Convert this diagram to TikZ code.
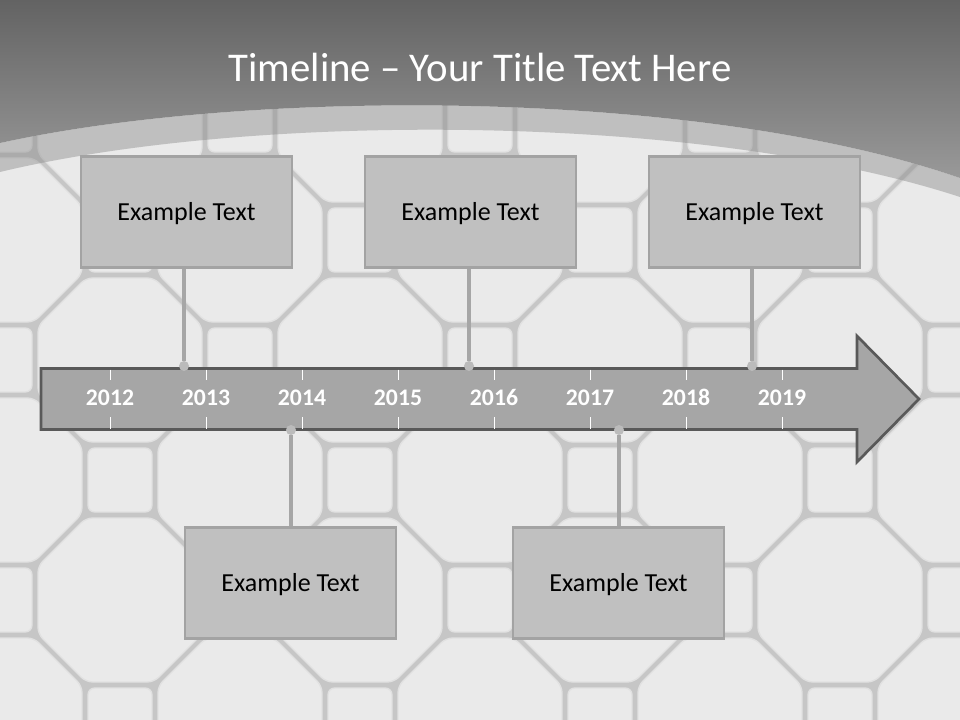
\documentclass[tikz,border=0pt]{standalone}
\usepackage{fontspec}
\setmainfont{Carlito}

\definecolor{groutgray}{HTML}{C6C6C6}
\definecolor{tilegray}{HTML}{EAEAEA}
\definecolor{tileedge}{HTML}{E1E1E1}
\definecolor{headtop}{HTML}{636363}
\definecolor{headbottom}{HTML}{999999}
\definecolor{bandgray}{HTML}{8C8C8C}
\definecolor{arrowgray}{HTML}{A6A6A6}
\definecolor{arrowline}{HTML}{595959}
\definecolor{boxgray}{HTML}{C0C0C0}
\definecolor{boxline}{HTML}{A3A3A3}
\definecolor{stemgray}{HTML}{A6A6A6}
\definecolor{pingray}{HTML}{BBBBBB}

\begin{document}
\begin{tikzpicture}[
  x = 0.75pt, y = -0.75pt,
  tilepiece/.style = {fill = tilegray, draw = tileedge, line width = 1pt,
    rounded corners = 5pt},
  eventbox/.style = {rectangle, draw = boxline, fill = boxgray,
    line width = 1.9pt, minimum width = 158pt, minimum height = 83.6pt,
    inner sep = 0pt, text height = 14pt, text depth = 1pt,
    font = \fontsize{19.5}{23}\selectfont},
  pindot/.style = {circle, fill = pingray, inner sep = 0pt,
    minimum size = 7.5pt},
  stemline/.style = {draw = stemgray, line width = 3pt},
  yearlabel/.style = {text = white, font = \bfseries\fontsize{17.8}{21}\selectfont},
  yeartick/.style = {white, line width = 0.75pt}
  ]

  \useasboundingbox (0,0) rectangle (960,720);
  \clip (0,0) rectangle (960,720);

  % Tiles
  \fill [groutgray] (0,0) rectangle (960,720);
  \foreach \i in {0,...,4}
  \foreach \j in {0,...,3} {
    \filldraw [tilepiece, shift = {(240*\i, 240*\j)}]
    (-34,-82) -- (34,-82) -- (82,-34) -- (82,34) -- (34,82) -- (-34,82)
    -- (-82,34) -- (-82,-34) -- cycle;
    \filldraw [tilepiece, shift = {(240*\i+120, 240*\j+120)}]
    (-34,-82) -- (34,-82) -- (82,-34) -- (82,34) -- (34,82) -- (-34,82)
    -- (-82,34) -- (-82,-34) -- cycle;
    \filldraw [tilepiece, shift = {(240*\i+120, 240*\j)}] (-32,-32) rectangle (32,32);
    \filldraw [tilepiece, shift = {(240*\i, 240*\j+120)}] (-32,-32) rectangle (32,32);
  }

  % Header
  \fill [bandgray, opacity = 0.45] (0,143) .. controls (250,88) and (700,88) .. (960,178)
  -- (960,197) .. controls (700,112) and (250,112) .. (0,172) -- cycle;
  \shade [top color = headtop, bottom color = headbottom] (0,0) -- (960,0)
  -- (960,178) .. controls (700,88) and (250,88) .. (0,143) -- cycle;
  \node at (480, 67) [name = title, text = white,
    font = \fontsize{30.6}{36}\selectfont] {Timeline – Your Title Text Here};

  % Timeline arrow
  \draw [fill = arrowgray, draw = arrowline, line width = 2pt]
  (41,368.5) -- (857,368.5) -- (857,336) -- (919,399) -- (857,462)
  -- (857,429.5) -- (41,429.5) -- cycle;
  \foreach \year [count = \k from 0] in {2012,...,2019} {
    \draw [yeartick] ({110+96*\k}, 369.5) -- ({110+96*\k}, 380);
    \draw [yeartick] ({110+96*\k}, 417) -- ({110+96*\k}, 428.5);
    \node at ({110+96*\k}, 397.5) [yearlabel, name = Y_\year] {\year};
  }

  % Nodes
  \node at (186.5, 212) [eventbox, name = E_1] {Example Text};
  \node at (470.5, 212) [eventbox, name = E_2] {Example Text};
  \node at (754.5, 212) [eventbox, name = E_3] {Example Text};
  \node at (290.5, 583) [eventbox, name = E_4] {Example Text};
  \node at (618.5, 583) [eventbox, name = E_5] {Example Text};

  \node at (184, 366) [pindot, name = P_1] {};
  \node at (469, 366) [pindot, name = P_2] {};
  \node at (752, 366) [pindot, name = P_3] {};
  \node at (291, 430) [pindot, name = P_4] {};
  \node at (619, 430) [pindot, name = P_5] {};

  % Stems
  \draw [stemline] (P_1 |- E_1.south) -- (P_1);
  \draw [stemline] (P_2 |- E_2.south) -- (P_2);
  \draw [stemline] (P_3 |- E_3.south) -- (P_3);
  \draw [stemline] (P_4) -- (P_4 |- E_4.north);
  \draw [stemline] (P_5) -- (P_5 |- E_5.north);

\end{tikzpicture}
\end{document}
